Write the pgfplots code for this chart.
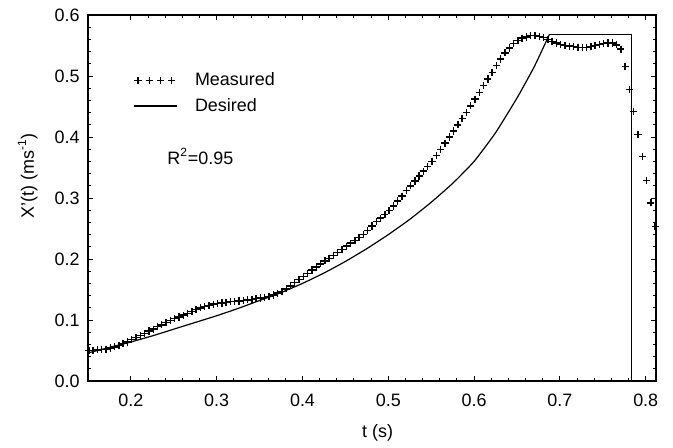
\documentclass[border=0pt]{standalone}
\usepackage{fontspec}
\setmainfont{Liberation Sans}
\usepackage{pgfplots}
\pgfplotsset{compat=1.18}
\begin{document}
\fontsize{9}{11}\selectfont
\begin{tikzpicture}
\begin{axis}[name=ax, scale only axis, width=284bp, height=183bp,
  xmin=0.15, xmax=0.812, ymin=0, ymax=0.6,
  clip=false,
  xtick={0.2,0.3,0.4,0.5,0.6,0.7,0.8},
  ytick={0,0.1,0.2,0.3,0.4,0.5,0.6},
  minor x tick num=4, minor y tick num=4,
  tick align=inside, xtick pos=both, ytick pos=both,
  xticklabel pos=left, yticklabel pos=left,
  major tick length=2.6bp, minor tick length=1.6bp,
  axis line style={line width=0.7bp},
  every tick/.style={black, line width=0.5bp},
  /pgf/number format/fixed, /pgf/number format/fixed zerofill,
  /pgf/number format/precision=1, /pgf/number format/assume math mode=true,
  every x tick label/.append style={yshift=-3.5bp},
  every y tick label/.append style={xshift=-1bp},
  tick label style={font=\fontsize{9}{11}\selectfont},
  label style={font=\fontsize{9}{11}\selectfont},
  xlabel={t (s)},
  ylabel={X'(t) (ms\textsuperscript{-1})},
  xlabel style={at={(axis description cs:0.51,-0.142)}, anchor=center},
  ylabel style={at={(axis description cs:-0.106,0.56)}, anchor=center},
  legend style={at={(axis description cs:0.08,0.855)}, anchor=north west, draw=none, fill=none,
    font=\fontsize{9}{11}\selectfont, row sep=1bp, column sep=6.5bp, inner xsep=0pt, inner ysep=0pt},
  legend cell align=left,
]
\addplot[black, only marks, mark=+, mark size=1.8bp, mark options={line width=0.7bp},
  legend image code/.code={\draw[black, only marks, mark=+, mark size=1.8bp, line width=0.6bp] plot coordinates {(1.8bp,0bp) (7.4bp,0bp) (13.0bp,0bp) (18.6bp,0bp)};}]
table {
t v
0.151 0.050
0.156 0.050
0.161 0.051
0.166 0.052
0.171 0.052
0.176 0.054
0.181 0.056
0.186 0.058
0.191 0.061
0.196 0.064
0.201 0.068
0.206 0.071
0.211 0.075
0.216 0.078
0.221 0.082
0.226 0.085
0.231 0.089
0.236 0.092
0.241 0.096
0.246 0.099
0.251 0.102
0.256 0.105
0.261 0.108
0.266 0.111
0.271 0.114
0.276 0.117
0.281 0.120
0.286 0.122
0.291 0.124
0.296 0.126
0.301 0.127
0.306 0.128
0.311 0.129
0.316 0.130
0.321 0.130
0.326 0.131
0.331 0.132
0.336 0.133
0.341 0.134
0.346 0.135
0.351 0.136
0.356 0.137
0.361 0.139
0.366 0.141
0.371 0.144
0.376 0.147
0.381 0.151
0.386 0.156
0.391 0.161
0.396 0.166
0.401 0.171
0.406 0.176
0.411 0.182
0.416 0.187
0.421 0.192
0.426 0.197
0.431 0.201
0.436 0.206
0.441 0.211
0.446 0.216
0.451 0.221
0.456 0.226
0.461 0.230
0.466 0.235
0.471 0.240
0.476 0.247
0.481 0.254
0.486 0.261
0.491 0.267
0.496 0.273
0.501 0.280
0.506 0.287
0.511 0.295
0.516 0.303
0.521 0.312
0.526 0.320
0.531 0.328
0.536 0.336
0.541 0.344
0.546 0.352
0.551 0.360
0.556 0.370
0.561 0.380
0.566 0.390
0.571 0.400
0.576 0.410
0.581 0.420
0.586 0.430
0.591 0.440
0.596 0.451
0.601 0.462
0.606 0.473
0.611 0.484
0.616 0.495
0.621 0.506
0.626 0.517
0.631 0.528
0.636 0.538
0.641 0.546
0.646 0.553
0.651 0.558
0.656 0.562
0.661 0.564
0.666 0.566
0.671 0.566
0.676 0.565
0.681 0.563
0.686 0.560
0.691 0.557
0.696 0.554
0.701 0.552
0.706 0.550
0.711 0.549
0.716 0.548
0.721 0.547
0.726 0.547
0.731 0.547
0.736 0.548
0.741 0.550
0.746 0.552
0.751 0.553
0.756 0.554
0.761 0.554
0.766 0.551
0.771 0.544
0.776 0.516
0.781 0.478
0.786 0.442
0.791 0.404
0.796 0.368
0.801 0.329
0.806 0.292
0.811 0.253
};
\addlegendentry{Measured}
\addplot[black, line width=0.6bp, smooth, tension=0.3,
  legend image code/.code={\draw[black, line width=0.6bp] (0bp,0bp) -- (21.5bp,0bp);}]
table {
t v
0.150 0.046
0.175 0.055
0.200 0.064
0.225 0.074
0.250 0.085
0.275 0.096
0.300 0.107
0.325 0.119
0.350 0.132
0.375 0.145
0.400 0.160
0.425 0.177
0.450 0.196
0.475 0.217
0.500 0.240
0.525 0.265
0.550 0.293
0.575 0.324
0.600 0.360
0.625 0.407
0.650 0.464
0.670 0.515
0.6877 0.568
};
\addlegendentry{Desired}
\addplot[black, line width=0.6bp, forget plot]
table {
t v
0.6877 0.568
0.7831 0.568
0.7831 0.000
0.812 0.000
};
\node[anchor=west, font=\fontsize{9}{11}\selectfont] at (axis cs:0.235,0.368) {R\textsuperscript{2}=0.95};
\end{axis}
\pgfresetboundingbox
\path ([shift={(-44bp,-33.5bp)}]ax.south west) rectangle ([shift={(8.5bp,7.5bp)}]ax.north east);
\end{tikzpicture}
\end{document}
